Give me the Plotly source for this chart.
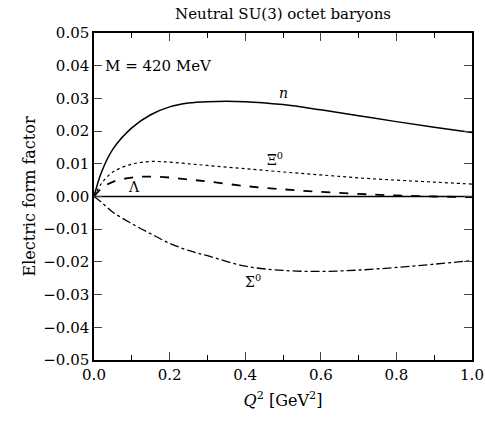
import plotly.graph_objects as go

Q2 = [0.0, 0.02, 0.05, 0.1, 0.15, 0.2, 0.25, 0.3, 0.4, 0.5, 0.6, 0.7, 0.8, 0.9, 1.0]
G_n = [0.0, 0.0075, 0.0145, 0.021, 0.025, 0.0274, 0.0286, 0.0290, 0.0290, 0.0281, 0.0265, 0.0247, 0.0229, 0.0212, 0.0196]
G_Xi0 = [0.0, 0.004, 0.0075, 0.0099, 0.0107, 0.0105, 0.0100, 0.0095, 0.0085, 0.0075, 0.0066, 0.0057, 0.0050, 0.0044, 0.0038]
G_Lambda = [0.0, 0.0025, 0.0045, 0.0058, 0.0061, 0.0058, 0.0052, 0.0046, 0.0032, 0.0022, 0.0014, 0.0008, 0.0003, 0.0000, -0.0002]
G_Sigma0 = [0.0, -0.0018, -0.0048, -0.0083, -0.0114, -0.0143, -0.0165, -0.0181, -0.0213, -0.0226, -0.0229, -0.0225, -0.0217, -0.0207, -0.0196]
zero_x = [0.0, 1.0]
zero_y = [0.0, 0.0]

x_ticks = [0.0, 0.2, 0.4, 0.6, 0.8, 1.0]
x_labels = ["0.0", "0.2", "0.4", "0.6", "0.8", "1.0"]
y_ticks = [0.05, 0.04, 0.03, 0.02, 0.01, 0.0, -0.01, -0.02, -0.03, -0.04, -0.05]
y_labels = ["0.05", "0.04", "0.03", "0.02", "0.01", "0.00", "\u22120.01", "\u22120.02", "\u22120.03", "\u22120.04", "\u22120.05"]

FONT = "DejaVu Serif"

fig = go.Figure()
fig.add_trace(go.Scatter(x=zero_x, y=zero_y, mode="lines", line=dict(color="black", width=1.5), showlegend=False))
fig.add_trace(go.Scatter(x=Q2, y=G_n, mode="lines", line=dict(color="black", width=1.5, shape="spline"), showlegend=False))
fig.add_trace(go.Scatter(x=Q2, y=G_Xi0, mode="lines", line=dict(color="black", width=1.2, dash="dot", shape="spline"), showlegend=False))
fig.add_trace(go.Scatter(x=Q2, y=G_Lambda, mode="lines", line=dict(color="black", width=1.8, dash="dash", shape="spline"), showlegend=False))
fig.add_trace(go.Scatter(x=Q2, y=G_Sigma0, mode="lines", line=dict(color="black", width=1.3, dash="dashdot", shape="spline"), showlegend=False))

ann_font = dict(family=FONT, size=14, color="black")
fig.add_annotation(x=0.5, y=1.0, xref="paper", yref="paper", yshift=8, text="Neutral SU(3) octet baryons",
                   showarrow=False, font=dict(family=FONT, size=15, color="black"), xanchor="center", yanchor="bottom")
fig.add_annotation(x=0.025, y=0.04, text="M = 420 MeV", showarrow=False, font=dict(family=FONT, size=15, color="black"), xanchor="left", yanchor="middle")
fig.add_annotation(x=0.50, y=0.0318, text="<i>n</i>", showarrow=False, font=ann_font)
fig.add_annotation(x=0.48, y=0.0115, text="\u039e<sup>0</sup>", showarrow=False, font=ann_font)
fig.add_annotation(x=0.105, y=0.003, text="\u039b", showarrow=False, font=ann_font)
fig.add_annotation(x=0.42, y=-0.0258, text="\u03a3<sup>0</sup>", showarrow=False, font=ann_font)

fig.update_layout(
    width=485, height=430,
    margin=dict(l=94, r=13, t=33, b=70),
    paper_bgcolor="white", plot_bgcolor="white",
    font=dict(family=FONT, size=15, color="black"),
    xaxis=dict(range=[0, 1], tickvals=x_ticks, ticktext=x_labels, ticks="inside", ticklen=8, tickwidth=1,
               mirror="allticks", showline=True, linecolor="black", linewidth=1.5, showgrid=False, zeroline=False,
               minor=dict(tickvals=[0.1, 0.3, 0.5, 0.7, 0.9], ticks="inside", ticklen=5, tickcolor="black"),
               title=dict(text="<i>Q</i><sup>2</sup> [GeV<sup>2</sup>]", font=dict(family=FONT, size=16), standoff=12),
               tickfont=dict(family=FONT, size=15), automargin=False),
    yaxis=dict(range=[-0.05, 0.05], tickvals=y_ticks, ticktext=y_labels, ticks="inside", ticklen=8, tickwidth=1,
               mirror="allticks", showline=True, linecolor="black", linewidth=1.5, showgrid=False, zeroline=False,
               title=dict(text="Electric form factor", font=dict(family=FONT, size=16), standoff=4),
               tickfont=dict(family=FONT, size=15), automargin=False),
)

fig.write_html("out.html")
